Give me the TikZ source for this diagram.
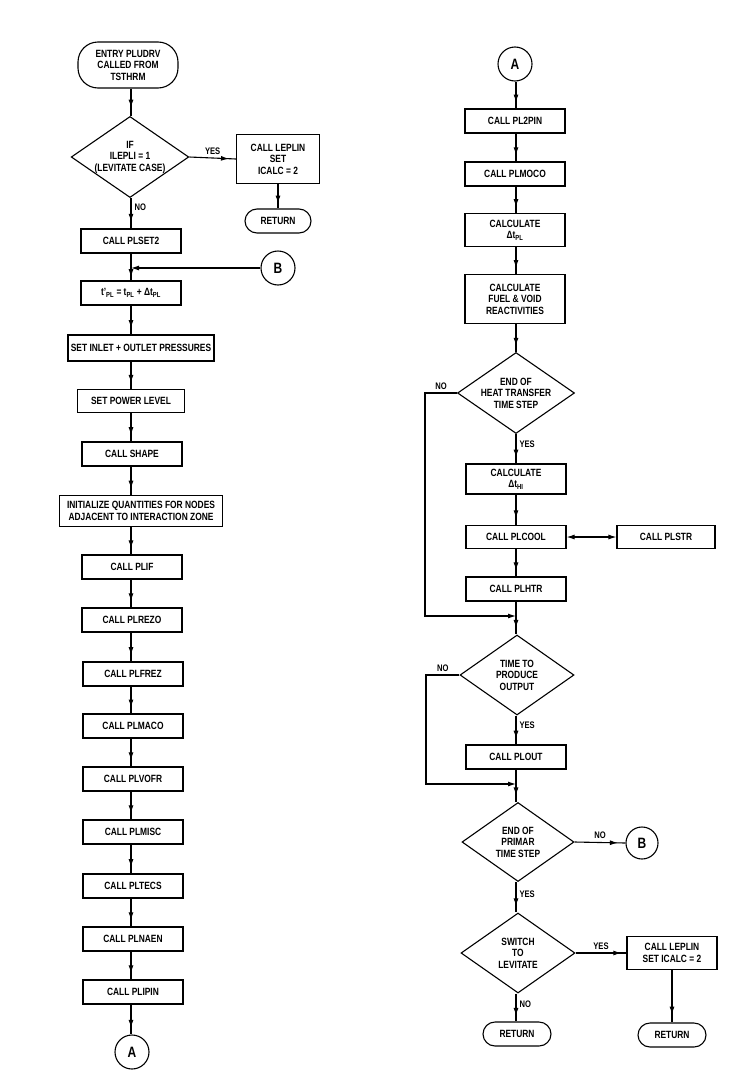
\documentclass[tikz,border=0pt]{standalone}
\usepackage{fontspec}
\setmainfont[FakeStretch=0.8]{Liberation Sans}
\usetikzlibrary{shapes.geometric,arrows.meta,decorations.markings,calc}

\tikzset{
  box/.style={draw, line width=1.1pt, minimum width=100pt, minimum height=24pt, align=center, inner sep=2pt},
  term/.style={draw, line width=1.1pt, rounded corners=12pt, minimum width=66pt, minimum height=24pt, align=center},
  dec/.style={draw, diamond, line width=1.1pt, aspect=1.45, inner sep=0pt, minimum width=116pt, minimum height=80pt, align=center},
  conn/.style={draw, circle, line width=1.1pt, minimum size=34pt, inner sep=0pt, font=\fontsize{15}{17}\selectfont\bfseries},
  arr/.style={postaction={decorate}, decoration={markings, mark=at position #1 with {\arrow{Latex[length=8pt,width=5pt]}}}},
  arr/.default=0.78,
  tip/.style={-{Latex[length=8pt,width=5pt]}},
  lbl/.style={font=\fontsize{9.5}{10}\selectfont\bfseries, inner sep=3pt}
}

\begin{document}
\begin{tikzpicture}[x=1pt, y=-1pt, line width=1.1pt, every node/.style={font=\fontsize{10.5}{11.5}\selectfont\bfseries}]
    \useasboundingbox (0,0) rectangle (755,1092);

    % Left column
    \coordinate (trunkL) at (131,0);
    \node[term, minimum width=100pt, minimum height=46pt, rounded corners=20pt] (entry) at (128,65) {ENTRY PLUDRV\\CALLED FROM\\TSTHRM};
    \node[dec] (ifl) at (130,157) {IF\\ILEPLI = 1\\(LEVITATE CASE)};
    \node[box, minimum width=83pt, minimum height=49pt] (lep1) at (278,159) {CALL LEPLIN\\SET\\ICALC = 2};
    \node[term] (ret1) at (278,221) {RETURN};
    \node[box] (plset2) at (131,241) {CALL PLSET2};
    \coordinate (jB) at (131,268);
    \node[conn] (conB) at (278,268) {B};
    \node[box] (tpl) at (131,293) {t’\textsubscript{PL} = t\textsubscript{PL} + Δt\textsubscript{PL}};
    \node[box, minimum width=146pt, minimum height=26pt] (inlet) at (141,348) {SET INLET + OUTLET PRESSURES};
    \node[box, minimum width=107pt, minimum height=23pt] (power) at (131,401) {SET POWER LEVEL};
    \node[box] (shape) at (132,454) {CALL SHAPE};
    \node[box, minimum width=163pt, minimum height=31pt] (init) at (141,511) {INITIALIZE QUANTITIES FOR NODES\\ADJACENT TO INTERACTION ZONE};
    \node[box] (plif) at (132,567) {CALL PLIF};
    \node[box] (plrezo) at (132,620) {CALL PLREZO};
    \node[box] (plfrez) at (133,674) {CALL PLFREZ};
    \node[box] (plmaco) at (133,726) {CALL PLMACO};
    \node[box] (plvofr) at (133,779) {CALL PLVOFR};
    \node[box] (plmisc) at (133,832) {CALL PLMISC};
    \node[box] (pltecs) at (133,886) {CALL PLTECS};
    \node[box] (plnaen) at (133,939) {CALL PLNAEN};
    \node[box] (plipin) at (133,992) {CALL PLIPIN};
    \node[conn] (conA) at (132,1052) {A};

    \draw[arr=0.7] (entry.south -| trunkL) -- (ifl.north -| trunkL);
    \draw[arr=0.85] (ifl.east) -- (lep1.west) node[lbl, midway, above] {YES};
    \draw[arr=0.8] (lep1) -- (ret1);
    \draw[arr] (ifl.south -| trunkL) -- (plset2.north -| trunkL) node[lbl, pos=0.3, right] {NO};
    \draw[arr=0.88] (plset2.south -| trunkL) -- (tpl.north -| trunkL);
    \draw[tip] (conB) -- (jB);
    \draw[arr] (tpl.south -| trunkL) -- (inlet.north -| trunkL);
    \draw[arr] (inlet.south -| trunkL) -- (power.north -| trunkL);
    \draw[arr] (power.south -| trunkL) -- (shape.north -| trunkL);
    \draw[arr] (shape.south -| trunkL) -- (init.north -| trunkL);
    \draw[arr] (init.south -| trunkL) -- (plif.north -| trunkL);
    \draw[arr] (plif.south -| trunkL) -- (plrezo.north -| trunkL);
    \draw[arr] (plrezo.south -| trunkL) -- (plfrez.north -| trunkL);
    \draw[arr] (plfrez.south -| trunkL) -- (plmaco.north -| trunkL);
    \draw[arr] (plmaco.south -| trunkL) -- (plvofr.north -| trunkL);
    \draw[arr] (plvofr.south -| trunkL) -- (plmisc.north -| trunkL);
    \draw[arr] (plmisc.south -| trunkL) -- (pltecs.north -| trunkL);
    \draw[arr] (pltecs.south -| trunkL) -- (plnaen.north -| trunkL);
    \draw[arr] (plnaen.south -| trunkL) -- (plipin.north -| trunkL);
    \draw[arr] (plipin.south -| trunkL) -- (conA.north -| trunkL);

    % Right column
    \coordinate (trunkR) at (516,0);
    \coordinate (noH) at (425,0);
    \coordinate (noO) at (426,0);
    \node[conn] (conA2) at (515,64) {A};
    \node[box] (pl2pin) at (515,121) {CALL PL2PIN};
    \node[box] (plmoco) at (515,174) {CALL PLMOCO};
    \node[box, minimum height=33pt] (dtpl) at (515,230) {CALCULATE\\Δt\textsubscript{PL}};
    \node[box, minimum height=49pt] (react) at (515,299) {CALCULATE\\FUEL \& VOID\\REACTIVITIES};
    \node[dec, minimum width=117pt, minimum height=81pt] (heat) at (516,393) {END OF\\HEAT TRANSFER\\TIME STEP};
    \node[box, minimum height=30pt] (dthi) at (516,479) {CALCULATE\\Δt\textsubscript{HI}};
    \node[box, minimum height=23pt] (plcool) at (516,537) {CALL PLCOOL};
    \node[box, minimum width=98pt, minimum height=23pt] (plstr) at (666,537) {CALL PLSTR};
    \node[box] (plhtr) at (516,589) {CALL PLHTR};
    \coordinate (m1) at (516,616);
    \node[dec, minimum width=114pt] (output) at (517,675) {TIME TO\\PRODUCE\\OUTPUT};
    \node[box] (plout) at (516,757) {CALL PLOUT};
    \coordinate (m2) at (516,784);
    \node[dec, minimum width=112pt, minimum height=79pt] (primar) at (518,842) {END OF\\PRIMAR\\TIME STEP};
    \node[conn, minimum size=32pt] (conB2) at (642,843) {B};
    \node[dec, minimum width=114pt] (levit) at (518,953) {SWITCH\\TO\\LEVITATE};
    \node[box, minimum width=90pt, minimum height=33pt] (lep2) at (672,953) {CALL LEPLIN\\SET ICALC = 2};
    \node[term, minimum width=68pt] (ret2) at (517,1034) {RETURN};
    \node[term, minimum width=68pt] (ret3) at (672,1035) {RETURN};

    \draw[arr] (conA2.south -| trunkR) -- (pl2pin.north -| trunkR);
    \draw[arr] (pl2pin.south -| trunkR) -- (plmoco.north -| trunkR);
    \draw[arr] (plmoco.south -| trunkR) -- (dtpl.north -| trunkR);
    \draw[arr] (dtpl.south -| trunkR) -- (react.north -| trunkR);
    \draw[arr] (react.south -| trunkR) -- (heat.north -| trunkR);
    \draw[arr=0.8] (heat.south -| trunkR) -- (dthi.north -| trunkR) node[lbl, pos=0.35, right] {YES};
    \draw[arr] (dthi.south -| trunkR) -- (plcool.north -| trunkR);
    \draw[{Latex[length=8pt,width=5pt]}-{Latex[length=8pt,width=5pt]}] (plcool) -- (plstr);
    \draw[arr] (plcool.south -| trunkR) -- (plhtr.north -| trunkR);
    \draw[arr=0.8] (plhtr.south -| trunkR) -- (output.north -| trunkR);
    \draw[tip] (heat.west) -- (heat.west -| noH) node[lbl, midway, above] {NO} |- (m1);
    \draw[arr=0.8] (output.south -| trunkR) -- (plout.north -| trunkR) node[lbl, pos=0.35, right] {YES};
    \draw[arr=0.8] (plout.south -| trunkR) -- (primar.north -| trunkR);
    \draw[tip] (output.west) -- (output.west -| noO) node[lbl, midway, above] {NO} |- (m2);
    \draw[arr=0.85] (primar.east) -- (conB2.west) node[lbl, midway, above] {NO};
    \draw[arr=0.8] (primar.south -| trunkR) -- (levit.north -| trunkR) node[lbl, pos=0.4, right] {YES};
    \draw[arr=0.9] (levit.east) -- (lep2.west) node[lbl, midway, above] {YES};
    \draw[arr=0.8] (levit.south -| trunkR) -- (ret2.north -| trunkR) node[lbl, pos=0.4, right] {NO};
    \draw[arr=0.85] (lep2) -- (ret3);
\end{tikzpicture}
\end{document}
